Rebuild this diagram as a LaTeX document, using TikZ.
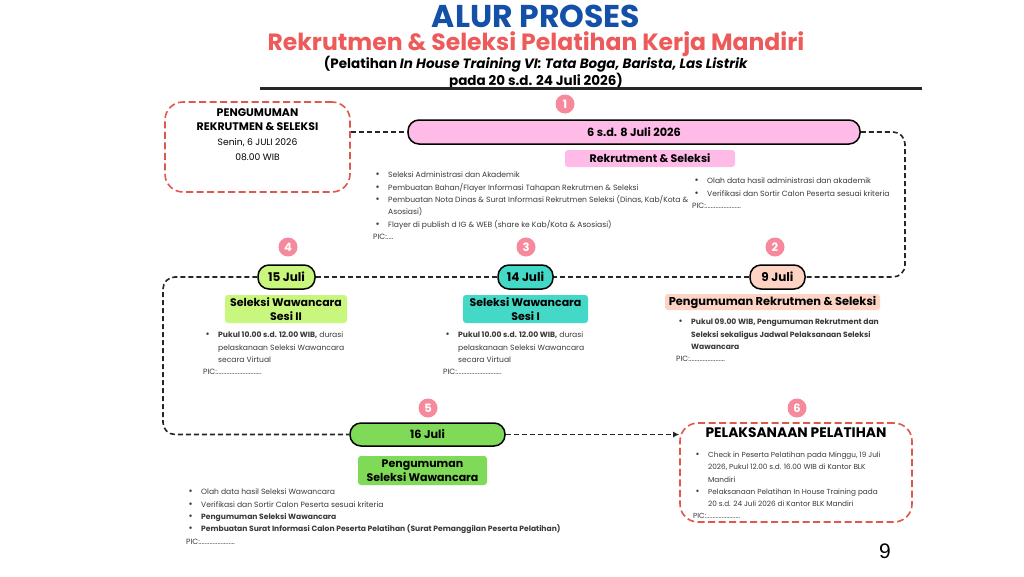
\documentclass[tikz,border=0pt]{standalone}
\usepackage{fontspec}
\setmainfont{Poppins}
\newfontfamily\pagefont{Liberation Sans}
\usetikzlibrary{positioning,arrows.meta}

\definecolor{titleblue}{HTML}{1450A8}
\definecolor{subred}{HTML}{EE5A5A}
\definecolor{boxred}{HTML}{E2574C}
\definecolor{numpink}{HTML}{F6899C}
\definecolor{pinkfill}{HTML}{FFBBE8}
\definecolor{peachfill}{HTML}{FDD4C4}
\definecolor{tealfill}{HTML}{44D9C7}
\definecolor{limefill}{HTML}{C9F77E}
\definecolor{greenfill}{HTML}{7FDA58}
\definecolor{bodygray}{HTML}{3A3A3A}

% bullet and continuation line
\newcommand\bul{\makebox[15pt][l]{\hspace{2.5pt}\scalebox{1.3}{\textbullet}}}
\newcommand\cnt{\hspace*{15pt}}

\begin{document}
\begin{tikzpicture}[x=1pt,y=-1pt,
    pill/.style={draw=black, line width=1.5pt, rounded corners=11pt, minimum height=24pt, inner sep=0pt, font=\bfseries\fontsize{11.3}{13}\selectfont},
    tag/.style={rounded corners=3pt, inner sep=1pt, align=center, font=\bfseries\fontsize{11}{13.5}\selectfont},
    num/.style={circle, fill=numpink, text=white, minimum size=19pt, inner sep=0pt, font=\bfseries\fontsize{11.5}{11.5}\selectfont},
    redbox/.style={draw=boxred, line width=1.6pt, dash pattern=on 7pt off 3.5pt, rounded corners=18pt},
    notes/.style={anchor=north west, align=left, inner sep=0pt, text=bodygray, font=\fontsize{7.6}{12.3}\selectfont},
    flow/.style={draw=black!85, line width=1.6pt, dash pattern=on 5pt off 3pt, rounded corners=12pt}]
  \useasboundingbox[fill=white] (0,0) rectangle (1024,576);

  % heading
  \node[text=titleblue, font=\bfseries\fontsize{31.5}{34}\selectfont] (ttl) at (536,16) {ALUR PROSES};
  \node[text=subred, font=\bfseries\fontsize{23.5}{26}\selectfont] (sub) at (536,44) {Rekrutmen \& Seleksi Pelatihan Kerja Mandiri};
  \node[align=center, font=\bfseries\fontsize{13.5}{14.5}\selectfont] (sub2) at (536,72.5)
    {(Pelatihan \textit{In House Training VI: Tata Boga, Barista, Las Listrik}\\pada 20 s.d. 24 Juli 2026)};
  \draw[line width=3pt, black!85] (260,88.5) -- (922,88.5);

  % announcement box
  \node[redbox, minimum width=185pt, minimum height=90pt] (ann) at (257.5,147) {};
  \node[align=center, inner sep=0pt, font=\fontsize{9.2}{14.7}\selectfont, below=7pt of ann.north] (annT)
    {{\bfseries\fontsize{11}{14.7}\selectfont PENGUMUMAN}\\{\bfseries\fontsize{11}{14.7}\selectfont REKRUTMEN \& SELEKSI}\\Senin, 6 JULI 2026\\08.00 WIB};

  % step 1
  \node[num] (n1) at (565,104) {1};
  \node[pill, fill=pinkfill, minimum width=452pt] (p1) at (634,132) {6 s.d. 8 Juli 2026};
  \node[tag, fill=pinkfill, minimum width=170pt, minimum height=17pt] (t1) at (650,158.5) {Rekrutment \& Seleksi};
  \node[notes] (b1) at (373,172) {\bul Seleksi Administrasi dan Akademik\\
    \bul Pembuatan Bahan/Flayer Informasi Tahapan Rekrutmen \& Seleksi\\
    \bul Pembuatan Nota Dinas \& Surat Informasi Rekrutmen Seleksi (Dinas, Kab/Kota \&\\
    \cnt Asosiasi)\\
    \bul Flayer di publish d IG \& WEB (share ke Kab/Kota \& Asosiasi)\\
    PIC:....};
  \node[notes] (b1r) at (692,178) {\bul Olah data hasil administrasi dan akademik\\
    \bul Verifikasi dan Sortir Calon Peserta sesuai kriteria\\
    PIC:......................};

  % step 2
  \node[num] (n2) at (775,247) {2};
  \node[pill, fill=peachfill, minimum width=55pt, font=\bfseries\fontsize{12}{14}\selectfont] (p2) at (777.5,277) {9 Juli};
  \node[tag, fill=peachfill, minimum width=215pt, minimum height=16pt, font=\bfseries\fontsize{11.4}{13}\selectfont] (t2) at (772.5,302) {Pengumuman Rekrutmen \& Seleksi};
  \node[notes] (b2) at (676,319) {\bul\textbf{Pukul 09.00 WIB, Pengumuman Rekrutment dan}\\
    \cnt\textbf{Seleksi sekaligus Jadwal Pelaksanaan Seleksi}\\
    \cnt\textbf{Wawancara}\\
    PIC:......................};

  % step 3
  \node[num] (n3) at (526,247) {3};
  \node[pill, fill=tealfill, minimum width=55pt, font=\bfseries\fontsize{12}{14}\selectfont] (p3) at (525.5,277) {14 Juli};
  \node[tag, fill=tealfill, minimum width=125pt, minimum height=28pt] (t3) at (525.5,309) {Seleksi Wawancara\\Sesi I};
  \node[notes] (b3) at (443,332) {\bul\textbf{Pukul 10.00 s.d. 12.00 WIB,} durasi\\
    \cnt pelaskanaan Seleksi Wawancara\\
    \cnt secara Virtual\\
    PIC:............................};

  % step 4
  \node[num] (n4) at (288,247) {4};
  \node[pill, fill=limefill, minimum width=57pt, font=\bfseries\fontsize{12}{14}\selectfont] (p4) at (286.5,277) {15 Juli};
  \node[tag, fill=limefill, minimum width=122pt, minimum height=28pt] (t4) at (286,309) {Seleksi Wawancara\\Sesi II};
  \node[notes] (b4) at (203,332) {\bul\textbf{Pukul 10.00 s.d. 12.00 WIB,} durasi\\
    \cnt pelaskanaan Seleksi Wawancara\\
    \cnt secara Virtual\\
    PIC:............................};

  % step 5
  \node[num] (n5) at (428,408) {5};
  \node[pill, fill=greenfill, minimum width=155pt, minimum height=23pt] (p5) at (427.5,434.5) {16 Juli};
  \node[tag, fill=greenfill, minimum width=129pt, minimum height=29pt] (t5) at (422.5,470.5) {Pengumuman\\Seleksi Wawancara};
  \node[notes] (b5) at (186,489) {\bul Olah data hasil Seleksi Wawancara\\
    \bul Verifikasi dan Sortir Calon Peserta sesuai kriteria\\
    \bul\textbf{Pengumuman Seleksi Wawancara}\\
    \bul\textbf{Pembuatan Surat Informasi Calon Peserta Pelatihan (Surat Pemanggilan Peserta Pelatihan)}\\
    PIC:......................};

  % step 6
  \node[num] (n6) at (797,408) {6};
  \node[redbox, minimum width=232pt, minimum height=99pt] (done) at (796,472.5) {};
  \node[inner sep=0pt, font=\bfseries\fontsize{13.8}{15}\selectfont, below=5pt of done.north] (doneT) {PELAKSANAAN PELATIHAN};
  \node[notes, font=\fontsize{7.3}{12.2}\selectfont] (b6) at (693,452) {\bul Check in Peserta Pelatihan pada Minggu, 19 Juli\\
    \cnt 2026, Pukul 12.00 s.d. 16.00 WIB di Kantor BLK\\
    \cnt Mandiri\\
    \bul Pelaksanaan Pelatihan In House Training pada\\
    \cnt 20 s.d. 24 Juli 2026 di Kantor BLK Mandiri\\
    PIC:......................};

  % connectors
  \coordinate (rloop) at (905,200);
  \coordinate (lloop) at (163,350);
  \draw[flow] (ann.east |- p1.west) -- (p1.west);
  \draw[flow] (p1.east) -| (rloop) |- (p2.east);
  \draw[flow] (p2.west) -- (p3.east);
  \draw[flow] (p3.west) -- (p4.east);
  \draw[flow] (p4.west) -| (lloop) |- (p5.west);
  \draw[flow, -{Latex[length=6pt,width=6pt]}] (p5.east) -- (p5.east -| done.west);

  \node[font=\pagefont\fontsize{21}{21}\selectfont] (pg) at (885,551) {9};
\end{tikzpicture}
\end{document}
